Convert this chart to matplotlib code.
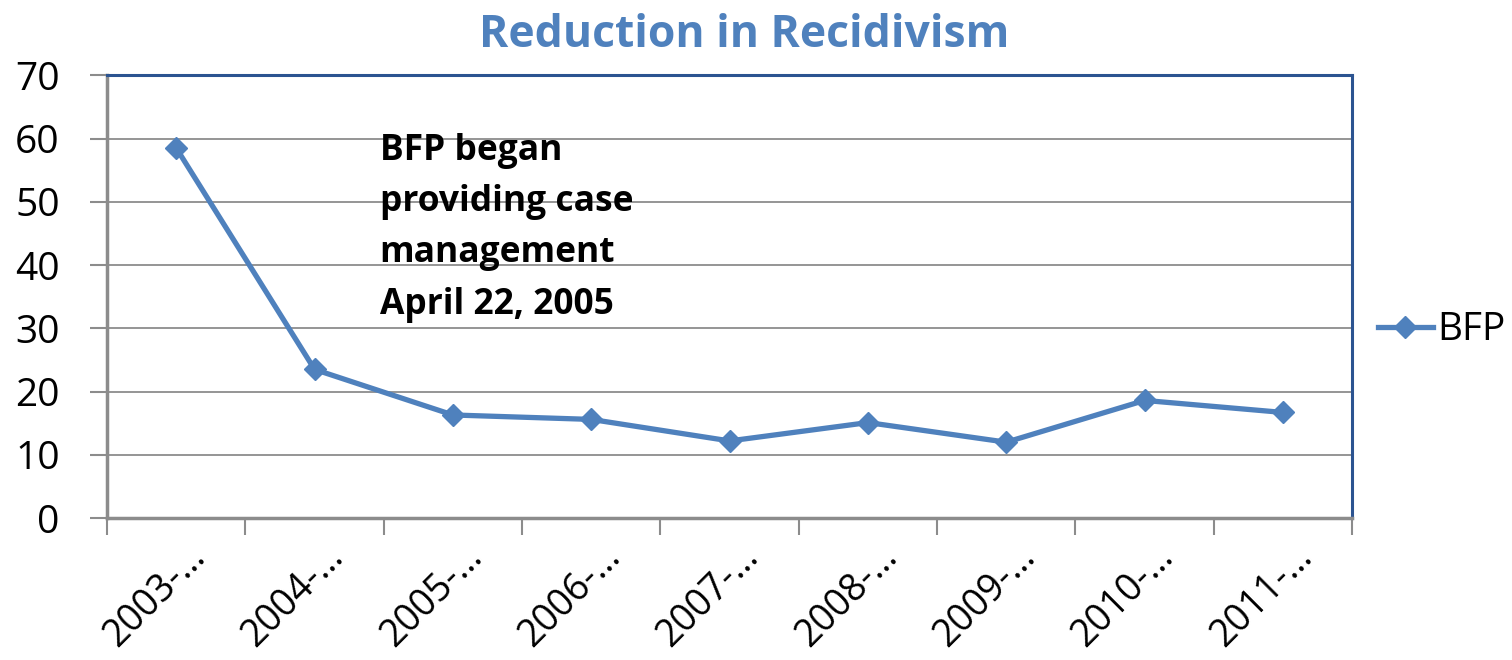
import matplotlib.pyplot as plt

plt.rcParams['font.family'] = ['Open Sans', 'DejaVu Sans']

# fiscal years (labels truncated as in the original)
years = ["2003-…", "2004-…", "2005-…", "2006-…", "2007-…",
         "2008-…", "2009-…", "2010-…", "2011-…"]
bfp = [58.5, 23.5, 16.3, 15.6, 12.2, 15.1, 12.0, 18.6, 16.7]
yticks = [0, 10, 20, 30, 40, 50, 60, 70]

blue = '#4f81bd'
frame = '#2c5491'
grey = '#8c8c8c'

fig = plt.figure(figsize=(15.12, 6.6), dpi=100)
ax = fig.add_axes([0.0708, 0.215, 0.8235, 0.671])

x = list(range(len(years)))
ax.plot(x, bfp, color=blue, lw=3.8, marker='D', markersize=11, label='BFP')

ax.set_xlim(-0.5, len(years) - 0.5)
ax.set_ylim(0, 70)
ax.set_yticks(yticks)
ax.set_yticklabels([str(v) for v in yticks], fontsize=28)
ax.yaxis.grid(True, color=grey, lw=1.3)
ax.set_axisbelow(True)

# category ticks sit between categories
ax.set_xticks([i - 0.5 for i in range(len(years) + 1)])
ax.set_xticklabels([])
ax.tick_params(axis='x', length=12, width=1.5, color=grey, direction='out')
ax.tick_params(axis='y', length=12, width=1.5, color=grey, direction='out', pad=22)
for i, lab in enumerate(years):
    ax.annotate(lab, xy=(i, 0), xycoords=('data', 'axes fraction'),
                xytext=(22, -29), textcoords='offset points',
                rotation=45, rotation_mode='anchor', ha='right', va='baseline',
                fontsize=27)

for side in ['top', 'right']:
    ax.spines[side].set_color(frame)
    ax.spines[side].set_linewidth(2.2)
ax.spines['left'].set_color(grey)
ax.spines['bottom'].set_color(grey)
ax.spines['left'].set_linewidth(2.5)
ax.spines['bottom'].set_linewidth(2.5)

ax.text(1.47, 45.9, "BFP began\nproviding case\nmanagement\nApril 22, 2005",
        fontsize=25.5, fontweight='bold', va='center', ha='left', linespacing=1.57)

fig.suptitle("Reduction in Recidivism", x=0.492, y=0.98, fontsize=32,
             fontweight='bold', color=blue)

ax.legend(loc='center left', bbox_to_anchor=(1.0, 0.424), frameon=False,
          fontsize=28, handlelength=1.4, handletextpad=0.13, borderaxespad=0.27)

fig.savefig('out.png', dpi=100)
